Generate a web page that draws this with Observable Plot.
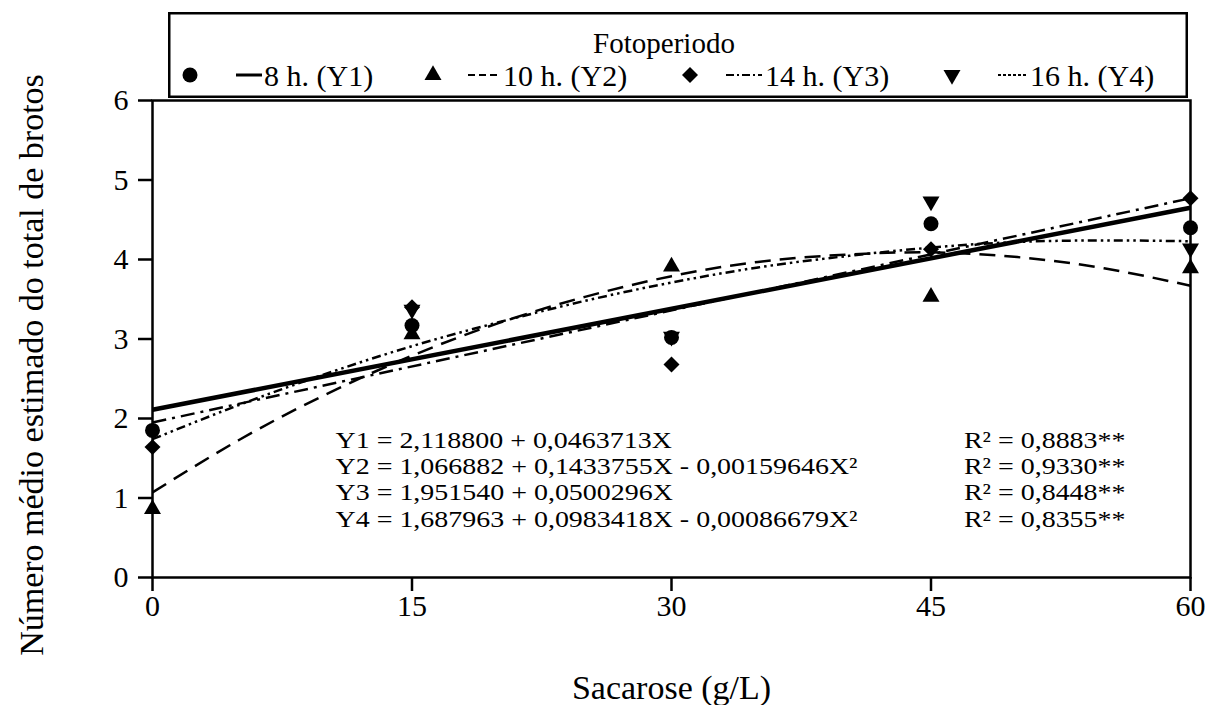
<!DOCTYPE html>
<html><head><meta charset="utf-8">
<script src="https://cdn.jsdelivr.net/npm/d3@7"></script>
<script src="https://cdn.jsdelivr.net/npm/@observablehq/plot@0.6"></script>
<style>
body{margin:0;background:#fff;}
#wrap{position:relative;width:1208px;height:705px;font-family:"Liberation Serif","Times New Roman",serif;}
#legend{position:absolute;left:168px;top:12px;width:1020px;height:86px;}
#chart{position:absolute;left:0;top:0;}
</style></head>
<body><div id="wrap"><div id="chart"></div><div id="legend"></div></div>
<script>
// ---- data ----
const sacarose = [0, 15, 30, 45, 60];
const y1Obs = [1.85, 3.17, 3.02, 4.45, 4.40];   // 8 h
const y2Obs = [0.86, 3.06, 3.91, 3.53, 3.89];   // 10 h
const y3Obs = [1.64, 3.40, 2.68, 4.13, 4.77];   // 14 h
const y4Obs = [null, 3.37, 3.03, 4.73, 4.14];   // 16 h (point at 0 not visible)

const lineX = [0, 60];
const y1Fit = [2.11, 4.65];
const y3Fit = [1.95, 4.77];
const curveX = [0, 5, 10, 15, 20, 25, 30, 35, 40, 45, 50, 55, 60];
const y2Fit = [1.07, 1.73, 2.30, 2.79, 3.20, 3.53, 3.79, 3.97, 4.06, 4.09, 4.03, 3.89, 3.67];
const y4Fit = [1.74, 2.17, 2.56, 2.91, 3.21, 3.48, 3.71, 3.90, 4.04, 4.15, 4.22, 4.24, 4.23];

const yTicks = [0, 1, 2, 3, 4, 5, 6];
const seriesNames = ["Y1", "Y2", "Y3", "Y4"];
const legendLabels = ["8 h. (Y1)", "10 h. (Y2)", "14 h. (Y3)", "16 h. (Y4)"];
const legendTitle = "Fotoperiodo";
const equations = [
  "Y1 = 2,118800 + 0,0463713X",
  "Y2 = 1,066882 + 0,1433755X - 0,00159646X²",
  "Y3 = 1,951540 + 0,0500296X",
  "Y4 = 1,687963 + 0,0983418X - 0,00086679X²"
];
const r2Labels = ["R² = 0,8883**", "R² = 0,9330**", "R² = 0,8448**", "R² = 0,8355**"];
const xLabel = "Sacarose (g/L)";
const yLabel = "Número médio estimado do total de brotos";

// ---- styles ----
const styles = {
  Y1: {symbol: "circle", r: 7.5, rotate: 0, dash: null, width: 4.5},
  Y2: {symbol: "triangle", r: 6.3, rotate: 0, dash: "16,9", width: 2.5},
  Y3: {symbol: "diamond2", r: 7.2, rotate: 0, dash: "14,6,3,6", width: 2.5},
  Y4: {symbol: "triangle", r: 6.3, rotate: 180, dash: "9,4,2.5,4,2.5,4", width: 2.5}
};

// ---- tidy tables ----
const obsBySeries = {Y1: y1Obs, Y2: y2Obs, Y3: y3Obs, Y4: y4Obs};
const drawOrder = ["Y3", "Y1", "Y4", "Y2"];
const fits = {
  Y1: lineX.map((x, i) => ({x, y: y1Fit[i]})),
  Y2: curveX.map((x, i) => ({x, y: y2Fit[i]})),
  Y3: lineX.map((x, i) => ({x, y: y3Fit[i]})),
  Y4: curveX.map((x, i) => ({x, y: y4Fit[i]}))
};

const lineMarks = seriesNames.map(s => Plot.line(fits[s], {
  x: "x", y: "y", stroke: "black", strokeWidth: styles[s].width,
  strokeDasharray: styles[s].dash, curve: "natural", strokeLinecap: "butt"
}));
const dotMarks = drawOrder.map(s => Plot.dot(
  sacarose.map((x, i) => ({x, y: obsBySeries[s][i]})).filter(d => d.y != null),
  {x: "x", y: "y", symbol: () => styles[s].symbol, r: styles[s].r, rotate: styles[s].rotate,
   fill: "black", stroke: "none"}
));

const eqFont = 23.5, eqStretch = 1.19;
const chart = Plot.plot({
  width: 1208, height: 705,
  marginLeft: 152, marginRight: 18, marginTop: 100, marginBottom: 128,
  style: {fontFamily: '"Liberation Serif","Times New Roman",serif', fontSize: "30px", color: "black", background: "transparent"},
  x: {domain: [0, 60]},
  y: {domain: [0, 6]},
  marks: [
    ...lineMarks,
    Plot.frame({stroke: "black", strokeWidth: 2.5}),
    Plot.axisX({ticks: sacarose, tickSize: 14, tickPadding: 3, fontSize: 30, strokeWidth: 2.5, label: null, tickFormat: d3.format("d")}),
    Plot.axisY({ticks: yTicks, tickSize: 14, tickPadding: 10, fontSize: 30, strokeWidth: 2.5, label: null, tickFormat: d3.format("d")}),
    ...dotMarks,
    Plot.text([equations.join("\n")], {text: d => d, frameAnchor: "bottom-left", dx: 183, dy: -51,
      textAnchor: "start", lineAnchor: "bottom", lineHeight: 1.107, fontSize: eqFont}),
    Plot.text([r2Labels.join("\n")], {text: d => d, frameAnchor: "bottom-right", dx: -65, dy: -51,
      textAnchor: "end", lineAnchor: "bottom", lineHeight: 1.107, fontSize: eqFont}),
    Plot.text([xLabel], {text: d => d, frameAnchor: "bottom", dy: 111, fontSize: 34, lineAnchor: "middle", textAnchor: "middle"}),
    Plot.text([yLabel], {text: d => d, frameAnchor: "left", dx: -120, dy: 26, rotate: -90, fontSize: 34, lineAnchor: "middle", textAnchor: "middle"})
  ]
});
// widen the equation / R² blocks horizontally (the scanned original is wide and tightly leaded)
d3.select(chart).selectAll("text")
  .filter(function() { const t = this.textContent; return t.startsWith("Y1 =") || t.startsWith("R²"); })
  .each(function() {
    const el = d3.select(this);
    let tr = el.attr("transform") || "";
    const x = +(el.attr("x") || 0), y = +(el.attr("y") || 0);
    if (x || y) { el.attr("x", null).attr("y", null); tr = `${tr} translate(${x},${y})`; }
    el.attr("transform", `${tr} scale(${eqStretch},1)`);
  });
document.getElementById("chart").appendChild(chart);

// ---- legend (HTML overlay with inline SVG) ----
const legW = 1020, legH = 86;
const leg = d3.select("#legend").append("svg").attr("width", legW).attr("height", legH)
  .style("font-family", '"Liberation Serif","Times New Roman",serif');
leg.append("rect").attr("x", 1.25).attr("y", 1.25).attr("width", legW - 2.5).attr("height", legH - 2.5)
  .attr("fill", "white").attr("stroke", "black").attr("stroke-width", 2.5);
leg.append("text").attr("x", 496).attr("y", 31).attr("text-anchor", "middle").attr("dominant-baseline", "central")
  .attr("font-size", 29).text(legendTitle);
const legItems = [
  {sym: 22, l0: 68, l1: 94, tx: 96},
  {sym: 265, l0: 300, l1: 332, tx: 335},
  {sym: 522, l0: 558, l1: 594, tx: 597},
  {sym: 784, l0: 830, l1: 858, tx: 862}
];
const rowY = 63;
seriesNames.forEach((s, i) => {
  const st = styles[s], it = legItems[i];
  const symType = {circle: d3.symbolCircle, triangle: d3.symbolTriangle, diamond2: d3.symbolDiamond2}[st.symbol];
  leg.append("path").attr("d", d3.symbol(symType, Math.PI * st.r * st.r)())
    .attr("transform", `translate(${it.sym},${rowY}) rotate(${st.rotate})`).attr("fill", "black");
  leg.append("line").attr("x1", it.l0).attr("x2", it.l1).attr("y1", rowY).attr("y2", rowY)
    .attr("stroke", "black").attr("stroke-width", s === "Y1" ? 3 : 2)
    .attr("stroke-dasharray", s === "Y2" ? "7,4" : s === "Y3" ? "8,3,2,3" : s === "Y4" ? "3,2" : null);
  leg.append("text").attr("x", it.tx).attr("y", rowY).attr("dominant-baseline", "central")
    .attr("font-size", 30).text(legendLabels[i]);
});
</script>
</body></html>
